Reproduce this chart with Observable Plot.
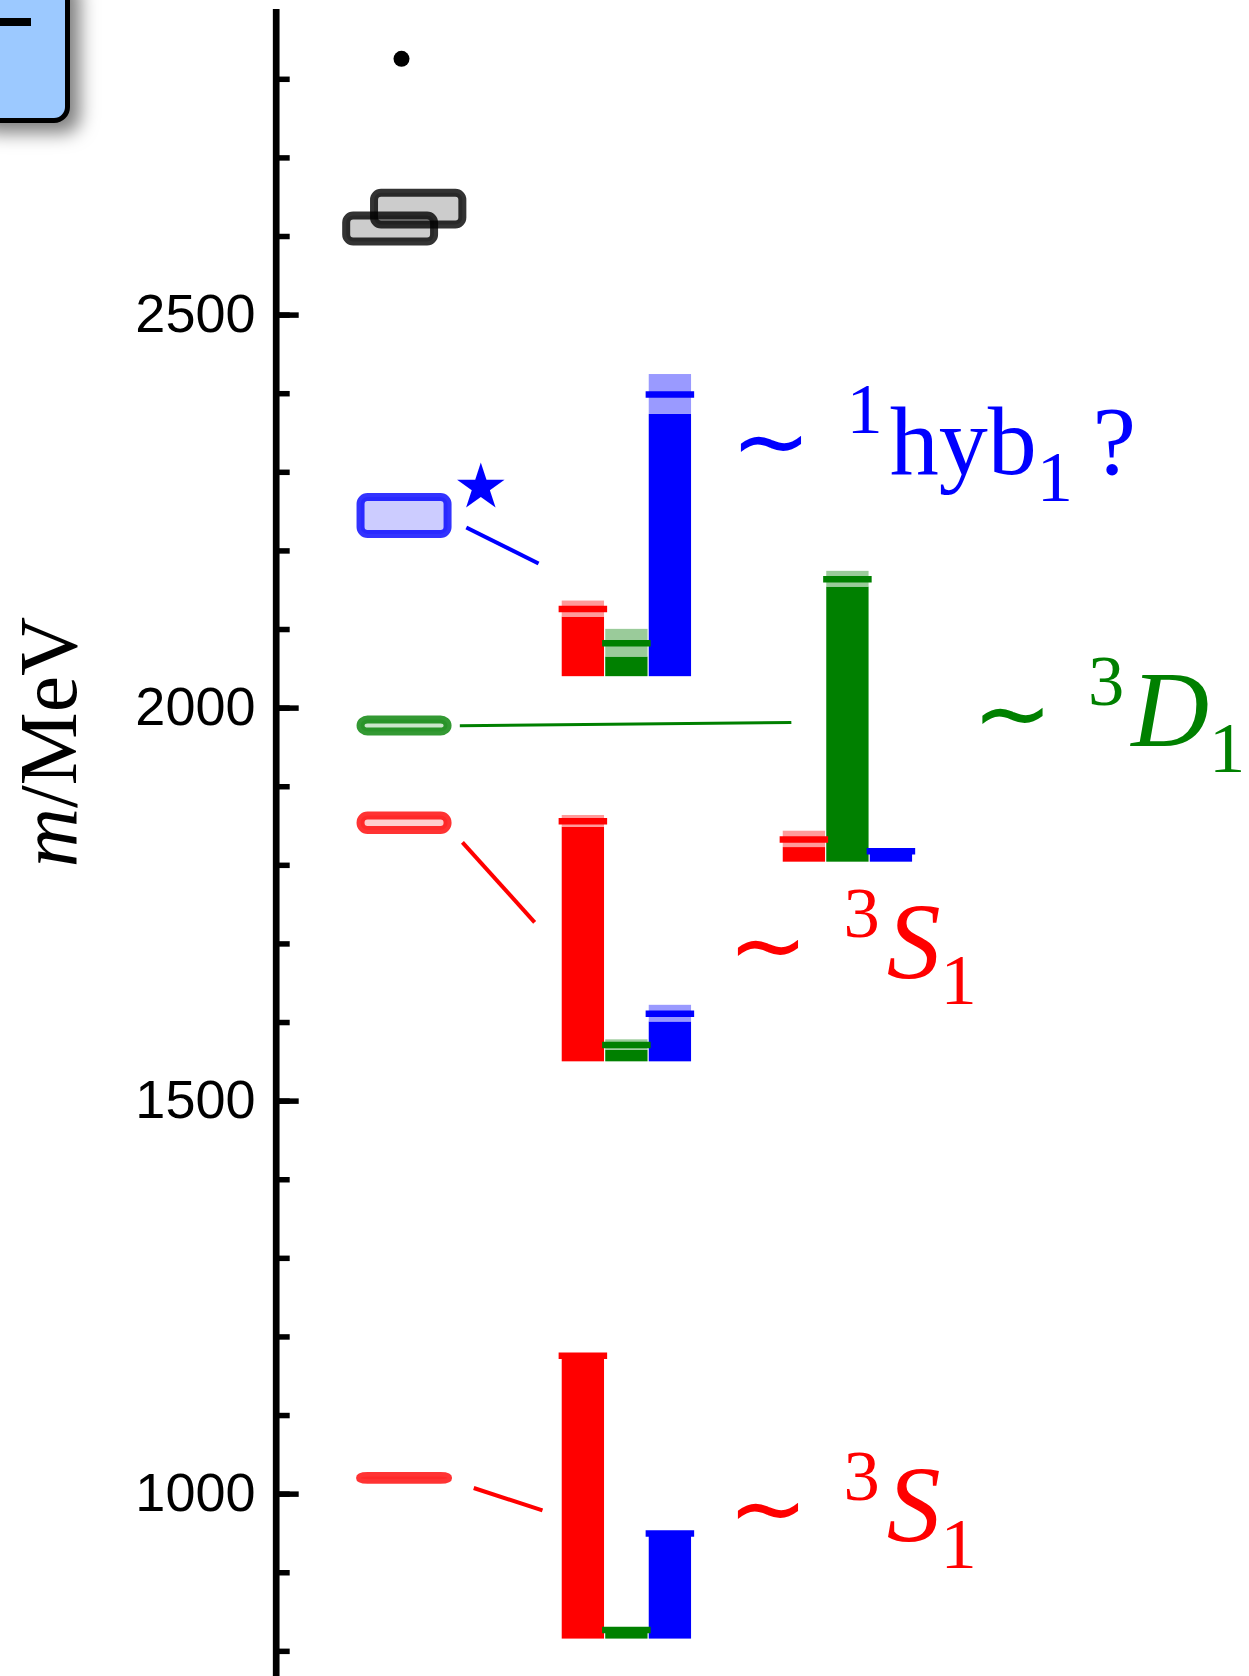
<!DOCTYPE html>
<html>
<head>
<meta charset="utf-8">
<script src="https://cdn.jsdelivr.net/npm/d3@7"></script>
<script src="https://cdn.jsdelivr.net/npm/@observablehq/plot@0.6"></script>
<style>
  html, body { margin: 0; padding: 0; background: #fff; }
  #wrap { position: relative; width: 1249px; height: 1676px; overflow: hidden; }
  #legendbox { position: absolute; left: -30px; top: -30px; width: 100px; height: 153px; box-sizing: border-box;
    background: #9cc9ff; border: 5px solid #000; border-radius: 16px;
    box-shadow: 10px 10px 18px rgba(0,0,0,0.5); z-index: 2; }
  #legenddash { position: absolute; left: 0px; top: 18px; width: 31px; height: 8px; background: #000; z-index: 3; }
</style>
</head>
<body>
<div id="wrap"></div>
<script>
// ---------------- DATA (MeV) ----------------
// tick values
const majorTicks = [1000, 1500, 2000, 2500];
const minorTicks = d3.range(800, 2900, 100);

// reference states in left column: [low, high] in MeV
const stateNames  = ["ground 3S1", "excited 3S1", "3D1", "hybrid"];
const stateLow    = [1018.4, 1844.3, 1969.6, 2221];
const stateHigh   = [1021.7, 1862.7, 1984.9, 2268];
const stateType   = ["S", "S", "D", "H"];

// higher states (grey boxes) and top point
const highLow  = [2593, 2614.6];
const highHigh = [2626, 2655];
const topPoint = [2826];

// overlap histograms: one group per state, three operator types
const operators  = ["S", "D", "H"];
const groupNames = ["ground 3S1", "excited 3S1", "3D1", "hybrid"];
const groupBase  = [815.6, 1550, 1804, 2040];
const valS = [1176, 1856, 1833, 2126];
const errS = [0, 7.4, 10.4, 10.2];
const valD = [827, 1571.4, 2164, 2082.6];
const errD = [0, 6.6, 10, 17.6];
const valH = [950, 1611.3, 1818, 2399];
const errH = [0, 10.6, 0, 25.4];

// labels
const labelText = ["∼ ¹hyb₁ ?", "∼ ³D₁", "∼ ³S₁", "∼ ³S₁"];
const labelMass = [2297.5, 1952, 1657, 940];
const labelType = ["H", "D", "S", "S"];
const starMass = [2279.6];

// connector lines: [from mass, to mass]
const linkFromMass = [1007.8, 1829.2, 1977.6, 2229.8];
const linkToMass   = [979.4, 1727.5, 1981.7, 2184];
const linkType     = ["S", "S", "D", "H"];

// ---------------- LAYOUT / STYLE ----------------
const color = { S: "#ff0000", D: "#008000", H: "#0000ff", X: "#000000" };
const light = { S: "#ff9a9a", D: "#9acb9a", H: "#9a9aff" };
const colX = { state: [1.95, 3.95], high: [[1.62, 3.64], [2.26, 4.29]], dot: 2.88, star: 4.70,
  barStart: [6.56, 6.56, 11.64, 6.56], barW: 1,
  labelX: [10.45, 16.0, 10.38, 10.38],
  linkX: [[4.54, 6.12], [4.28, 5.94], [4.22, 11.84], [4.37, 6.03]] };
const FS = 98;

const states = stateNames.map((n, i) => ({ n, lo: stateLow[i], hi: stateHigh[i], t: stateType[i] }));
const highs = highLow.map((lo, i) => ({ lo, hi: highHigh[i], i }));
const bars = [];
groupNames.forEach((g, gi) => {
  [[valS, errS], [valD, errD], [valH, errH]].forEach(([v, e], oi) => {
    const x1 = colX.barStart[gi] + oi * colX.barW;
    bars.push({ g, t: operators[oi], x1, x2: x1 + colX.barW, base: groupBase[gi], v: v[gi], e: e[gi] });
  });
});
const labels = labelText.map((s, i) => ({ s, m: labelMass[i], t: labelType[i], x: colX.labelX[i] }));
const links = linkFromMass.map((a, i) => ({ a, b: linkToMass[i], t: linkType[i], x1: colX.linkX[i][0], x2: colX.linkX[i][1] }));

const svg = Plot.plot({
  width: 1249, height: 1676,
  marginLeft: 275.7, marginRight: 0, marginTop: 9, marginBottom: 0,
  style: { background: "white", overflow: "visible" },
  x: { domain: [0, 22.37], axis: null },
  y: { domain: [768, 2888.8], axis: null, label: null },
  marks: [
    // connector lines
    Plot.link(links, { x1: "x1", x2: "x2", y1: "a", y2: "b", stroke: d => color[d.t], strokeWidth: d => d.t === "D" ? 3 : 4 }),
    // grey higher states
    Plot.rect(highs, { x1: d => colX.high[d.i][0], x2: d => colX.high[d.i][1], y1: "lo", y2: "hi",
      fill: "black", fillOpacity: 0.2, stroke: "black", strokeOpacity: 0.8, strokeWidth: 8, rx: 7 }),
    Plot.dot(topPoint, { x: colX.dot, y: d => d, r: 8, fill: "black" }),
    // reference states
    Plot.rect(states, { x1: colX.state[0], x2: colX.state[1], y1: "lo", y2: "hi",
      fill: d => color[d.t], fillOpacity: 0.2, stroke: d => color[d.t], strokeOpacity: 0.8,
      strokeWidth: d => d.n === "ground 3S1" ? 9 : 8, rx: 7 }),
    // star
    Plot.text(starMass, { x: colX.star, y: d => d, text: () => "⋆", fill: color.H, fontSize: 124, fontFamily: "DejaVu Sans" }),
    // histogram bodies
    Plot.rect(bars, { x1: "x1", x2: "x2", y1: "base", y2: d => d.v - d.e, fill: d => color[d.t], insetLeft: 0.6, insetRight: 0.6 }),
    Plot.rect(bars.filter(d => d.e > 0), { x1: "x1", x2: "x2", y1: d => d.v - d.e, y2: d => d.v + d.e, fill: d => light[d.t], insetLeft: 0.6, insetRight: 0.6 }),
    Plot.ruleY(bars, { y: "v", x1: "x1", x2: "x2", stroke: d => color[d.t], strokeWidth: 6.5, insetLeft: -2.5, insetRight: -2.5 }),
    // labels
    Plot.text(labels, { x: "x", y: "m", text: "s", fill: d => color[d.t], textAnchor: "start", fontSize: FS, fontFamily: "Liberation Serif" }),
    // axis
    Plot.ruleX([0], { stroke: "black", strokeWidth: 6.7 }),
    Plot.axisY(minorTicks, { tickSize: 14, dx: 14, tickFormat: () => "", strokeWidth: 5.5, label: null }),
    Plot.axisY(majorTicks, { tickSize: 23, dx: 23, tickFormat: () => "", strokeWidth: 5.5, label: null }),
    Plot.axisY(majorTicks, { tickSize: 0, tickPadding: 20.7, tickFormat: d => String(d), fontSize: 54,
      fontFamily: "Liberation Sans, Arial, sans-serif", fill: "black", label: null })
  ]
});

// rich text for labels: superscripts, subscripts, italics
const supMap = { "¹": "1", "²": "2", "³": "3" };
const subMap = { "₁": "1", "₂": "2" };
function richLabel(el, s, fs) {
  el.textContent = "";
  el.removeAttribute("dy");
  el.setAttribute("y", 0);
  const runs = [];
  let pend = 0, prev = null;
  for (const ch of s) {
    if (ch === " ") { pend += prev === "sim" ? 0.36 * fs : 0.2 * fs; continue; }
    const kind = supMap[ch] ? "sup" : subMap[ch] ? "sub" : ch === "∼" ? "sim" : /[A-Z]/.test(ch) ? "ital" : "rom";
    const c = supMap[ch] || subMap[ch] || ch;
    if (prev === "sup") pend += 0.07 * fs;
    const last = runs[runs.length - 1];
    if (last && last.kind === kind && pend === 0) last.txt += c;
    else runs.push({ kind, txt: c, dx: pend });
    pend = 0; prev = kind;
  }
  let shift = 0;
  for (const r of runs) {
    const target = r.kind === "sup" ? -0.42 * fs : r.kind === "sub" ? 0.27 * fs : 0;
    const t = document.createElementNS("http://www.w3.org/2000/svg", "tspan");
    t.textContent = r.txt;
    if (r.dx) t.setAttribute("dx", r.dx);
    if (target !== shift) t.setAttribute("dy", target - shift);
    shift = target;
    if (r.kind === "sup" || r.kind === "sub") t.setAttribute("font-size", 0.74 * fs);
    if (r.kind === "sim") { t.setAttribute("font-size", 0.98 * fs); t.setAttribute("font-family", "DejaVu Sans"); }
    if (r.kind === "ital") { t.setAttribute("font-style", "italic"); t.setAttribute("font-size", 1.1 * fs); }
    el.appendChild(t);
  }
}
d3.select(svg).selectAll("text").each(function () {
  const s = this.textContent;
  if (labelText.includes(s)) richLabel(this, s, FS);
});
// star centred vertically
d3.select(svg).selectAll("text").filter(function () { return this.textContent === "⋆"; }).attr("y", "0.30em");

// y-axis title m/MeV
const yt = d3.select(svg).append("text")
  .attr("transform", "translate(76,742) rotate(-90)")
  .attr("text-anchor", "middle")
  .attr("font-family", "Liberation Serif")
  .attr("font-size", 82)
  .attr("fill", "black");
yt.append("tspan").attr("font-style", "italic").text("m");
yt.append("tspan").text("/MeV");

const wrap = document.getElementById("wrap");
wrap.appendChild(svg);
const lb = document.createElement("div"); lb.id = "legendbox"; wrap.appendChild(lb);
const ld = document.createElement("div"); ld.id = "legenddash"; wrap.appendChild(ld);
</script>
</body>
</html>
